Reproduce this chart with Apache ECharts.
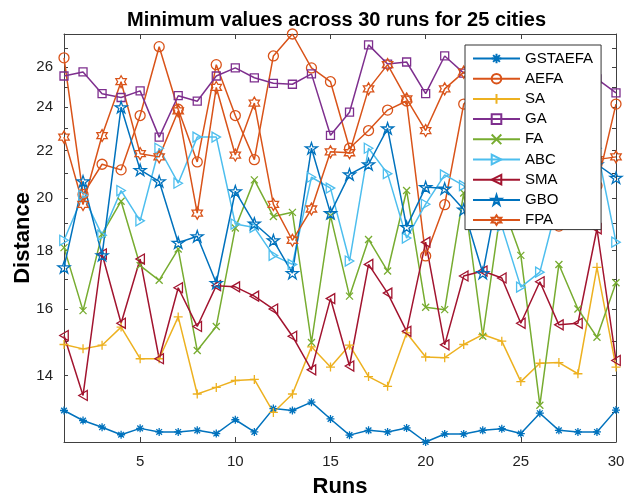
<!DOCTYPE html>
<html><head><meta charset="utf-8">
<script src="https://cdn.jsdelivr.net/npm/echarts@6/dist/echarts.min.js"></script>
<style>html,body{margin:0;padding:0;background:#fff}#c{width:626px;height:498px}</style>
</head><body><div id="c"></div>
<script>
const runs = [1,2,3,4,5,6,7,8,9,10,11,12,13,14,15,16,17,18,19,20,21,22,23,24,25,26,27,28,29,30];
const seriesNames = ['GSTAEFA','AEFA','SA','GA','FA','ABC','SMA','GBO','FPA'];
const GSTAEFA = [13.05,12.79,12.62,12.43,12.59,12.5,12.5,12.54,12.46,12.81,12.5,13.1,13.05,13.27,12.83,12.42,12.54,12.5,12.6,12.25,12.45,12.45,12.54,12.58,12.46,12.98,12.54,12.5,12.5,13.06];
const AEFA = [26.5,20.14,21.4,21.16,23.6,27.1,23.9,21.5,26.14,23.6,21.6,26.6,27.8,25.97,25.26,22.1,22.9,23.86,24.3,17.8,19.73,24.15,25.0,25.6,23.5,22.0,18.9,21.5,20.5,24.15];
const SA = [14.9,14.77,14.88,15.43,14.48,14.48,15.75,13.49,13.67,13.86,13.89,13.0,13.49,14.83,14.24,14.88,13.97,13.7,15.25,14.53,14.51,14.9,15.2,15.0,13.83,14.35,14.37,14.05,17.4,14.24];
const GA = [25.55,25.76,24.66,24.47,24.8,22.6,24.56,24.29,25.55,25.97,25.46,25.18,25.13,25.66,22.68,23.76,27.2,26.17,26.28,24.66,26.6,25.7,26.4,25.5,26.0,24.8,25.6,26.2,25.4,24.7];
const FA = [18.1,15.95,18.6,19.87,17.46,16.95,18.05,14.72,15.45,18.83,20.74,19.27,19.43,14.96,19.3,16.42,18.4,17.27,20.3,16.06,15.98,20.2,15.15,19.8,17.82,13.19,17.5,16.0,15.12,16.87];
const ABC = [18.37,20.1,18.56,20.3,19.1,22.1,20.6,22.6,22.6,18.98,18.85,17.82,17.5,20.85,20.4,17.62,22.1,21.0,18.45,19.75,20.95,20.5,19.6,18.9,16.72,17.23,20.0,21.0,22.1,18.3];
const SMA = [15.17,13.45,17.87,15.55,17.69,14.48,16.7,15.45,16.77,16.73,16.42,16.0,15.15,14.16,16.34,14.27,17.5,16.52,15.3,18.3,14.89,17.1,17.27,17.03,15.55,16.9,15.5,15.55,18.8,14.43];
const GBO = [17.4,20.68,17.83,24.0,21.16,20.68,18.28,18.52,16.86,20.27,19.0,18.37,17.2,22.1,19.4,20.97,21.4,23.0,18.87,20.44,20.38,19.54,17.2,21.0,20.2,21.5,20.6,21.8,21.4,20.83];
const FPA = [22.6,19.74,22.67,25.26,21.86,21.72,23.82,19.4,24.97,21.8,24.2,19.74,18.37,19.56,21.94,21.9,24.9,26.14,24.4,22.9,24.9,25.75,25.0,23.5,24.5,22.8,23.8,22.0,21.6,21.72];
const xTickLabels = [5,10,15,20,25,30];
const yTickLabels = [14,16,18,20,22,24,26];
const yMinorTicks = [13,14,15,16,17,18,19,20,21,22,23,24,25,26,27];

const values = [GSTAEFA,AEFA,SA,GA,FA,ABC,SMA,GBO,FPA];

function star(n, r1, r2) {
  let d = '';
  for (let k = 0; k < 2*n; k++) {
    const a = -Math.PI/2 + k*Math.PI/n;
    const r = (k % 2) ? r2 : r1;
    d += (k ? 'L' : 'M') + (r*Math.cos(a)).toFixed(3) + ',' + (r*Math.sin(a)).toFixed(3);
  }
  return 'path://' + d + 'Z';
}
const sym = {
  asterisk: 'path://M0,-10L0,10M-10,0L10,0M-7.07,-7.07L7.07,7.07M-7.07,7.07L7.07,-7.07',
  plus: 'path://M0,-10L0,10M-10,0L10,0',
  cross: 'path://M-10,-10L10,10M-10,10L10,-10',
  right: 'path://M0,0L17,10L0,20Z',
  left: 'path://M17,0L0,10L17,20Z',
  penta: star(5, 10, 3.82),
  hexa: star(6, 10, 5.77)
};
const styles = [
  {c:'#0072BD', s:sym.asterisk, z:8},
  {c:'#D95319', s:'circle', z:10},
  {c:'#EDB120', s:sym.plus, z:9},
  {c:'#7E2F8E', s:'rect', z:8},
  {c:'#77AC30', s:sym.cross, z:7},
  {c:'#4DBEEE', s:sym.right, z:10},
  {c:'#A2142F', s:sym.left, z:10},
  {c:'#0072BD', s:sym.penta, z:12},
  {c:'#D95319', s:sym.hexa, z:12}
];

const allVals = [].concat(...values);
const yMin = Math.log(Math.min(...allVals));
const yMax = Math.log(Math.max(...allVals));
const font = 'Liberation Sans, Arial, Helvetica, sans-serif';
const axisColor = '#404040';

const series = seriesNames.map((name, i) => ({
  name: name,
  type: 'line',
  data: runs.map((r, j) => [r, Math.log(values[i][j])]),
  symbol: styles[i].s,
  symbolSize: styles[i].z,
  symbolKeepAspect: true,
  showAllSymbol: true,
  lineStyle: {color: styles[i].c, width: 1.5},
  itemStyle: {color: 'rgba(255,255,255,0)', borderColor: styles[i].c, borderWidth: 1.3},
  emphasis: {disabled: true},
  animation: false
}));

const baseX = {
  type: 'value', min: 1, max: 30,
  splitLine: {show: false},
  axisLine: {show: true, onZero: false, lineStyle: {color: axisColor, width: 1}},
  axisTick: {show: true, inside: true, length: 5, customValues: xTickLabels, lineStyle: {color: axisColor}}
};
const baseY = {
  type: 'value', min: yMin, max: yMax,
  splitLine: {show: false},
  axisLine: {show: true, onZero: false, lineStyle: {color: axisColor, width: 1}},
  axisTick: {show: true, inside: true, length: 4, customValues: yMinorTicks.map(Math.log), lineStyle: {color: axisColor}}
};

const chart = echarts.init(document.getElementById('c'), null, {renderer: 'canvas'});
chart.setOption({
  animation: false,
  backgroundColor: '#fff',
  title: {
    text: 'Minimum values across 30 runs for 25 cities',
    left: 122, top: 5,
    textStyle: {fontFamily: font, fontSize: 20, fontWeight: 'bold', color: '#000'}
  },
  grid: {left: 64, right: 10, top: 34, bottom: 56, containLabel: false, outerBoundsMode: 'none'},
  legend: {
    orient: 'vertical', left: 465, top: 45,
    padding: [6, 8, 2, 7],
    itemWidth: 47, itemHeight: 12, itemGap: 5.2,
    backgroundColor: '#fff', borderColor: '#333', borderWidth: 1,
    textStyle: {fontFamily: font, fontSize: 15, color: '#000'},
    data: seriesNames
  },
  xAxis: [
    Object.assign({}, baseX, {
      position: 'bottom',
      axisLabel: {customValues: xTickLabels, margin: 12, fontFamily: font, fontSize: 15, color: '#222'},
      name: 'Runs', nameLocation: 'middle', nameGap: 34, nameMoveOverlap: false,
      nameTextStyle: {fontFamily: font, fontSize: 22, fontWeight: 'bold', color: '#000'}
    }),
    Object.assign({}, baseX, {position: 'top', axisLabel: {show: false}})
  ],
  yAxis: [
    Object.assign({}, baseY, {
      position: 'left',
      axisLabel: {customValues: yTickLabels.map(Math.log), margin: 11, fontFamily: font, fontSize: 15, color: '#222',
        formatter: v => String(Math.round(Math.exp(v)))},
      name: 'Distance', nameLocation: 'middle', nameGap: 30, nameMoveOverlap: false,
      nameTextStyle: {fontFamily: font, fontSize: 22, fontWeight: 'bold', color: '#000'}
    }),
    Object.assign({}, baseY, {position: 'right', axisLabel: {show: false}})
  ],
  series: series
});
</script>
</body></html>
